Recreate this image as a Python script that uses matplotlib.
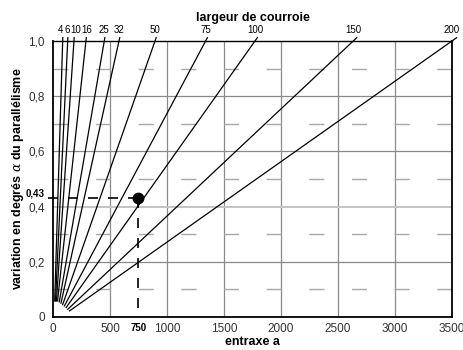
import matplotlib
matplotlib.use("Agg")
import matplotlib.pyplot as plt

# belt widths and where each line starts / meets the top edge (alpha = 1,0)
widths = [4, 6, 10, 16, 25, 32, 50, 75, 100, 150, 200]
top_x = [85, 129, 184, 289, 450, 579, 895, 1339, 1772, 2634, 3500]
bottom_x = [15, 22, 30, 40, 55, 70, 85, 100, 115, 130, 145]
bottom_y = [0.058, 0.058, 0.058, 0.058, 0.055, 0.05, 0.045, 0.04, 0.034, 0.028, 0.022]

# worked example
ex_a = 750
ex_alpha = 0.43

x_ticks = [0, 500, 750, 1000, 1500, 2000, 2500, 3000, 3500]
x_ticklabels = ["0", "500", "750", "1000", "1500", "2000", "2500", "3000", "3500"]
y_ticks = [0, 0.2, 0.4, 0.43, 0.6, 0.8, 1.0]
y_ticklabels = ["0", "0,2", "0,4", "0,43", "0,6", "0,8", "1,0"]

plt.rcParams["font.family"] = ["Liberation Sans", "DejaVu Sans"]
plt.rcParams["mathtext.fontset"] = "dejavuserif"

fig = plt.figure(figsize=(4.64, 3.5), dpi=100)
ax = fig.add_axes([0.1142, 0.0943, 0.8599, 0.7886])
ax.set_xlim(0, 3500)
ax.set_ylim(0, 1.0)

# grid
for gx in [500, 1000, 1500, 2000, 2500, 3000]:
    ax.axvline(gx, color="#8a8a8a", lw=0.9, zorder=1)
for gy in [0.2, 0.6, 0.8]:
    ax.axhline(gy, color="#8a8a8a", lw=0.9, zorder=1)
ax.axhline(0.4, color="#c4c4c4", lw=1.4, zorder=1)
for gy in [0.1, 0.3, 0.5, 0.7, 0.9]:
    ax.plot([0, 3500], [gy, gy], color="#a8a8a8", lw=1.0,
            linestyle=(0, (10.8, 19.9)), zorder=1)

# small sideways nudges (points) so the crowded labels don't collide
nudge = {4: -1.9, 6: -0.5, 10: 1.4, 16: 0.7}

# belt lines, running a touch past the top edge up to their labels
ext = 1.012
for w, tx, bx, by in zip(widths, top_x, bottom_x, bottom_y):
    slope = (1.0 - by) / (tx - bx)
    xe = tx + (ext - 1.0) / slope
    ax.plot([bx, xe], [by, ext], color="black", lw=0.9, clip_on=False, zorder=3)
    ax.annotate(str(w), (tx, 1.0), xytext=(nudge.get(w, 0), 4.2),
                textcoords="offset points", ha="center", va="bottom",
                fontsize=7, annotation_clip=False)

# example reading
ax.plot([-45, ex_a], [ex_alpha, ex_alpha], color="black", lw=1.2,
        dashes=(6, 6), clip_on=False, zorder=2)
ax.plot([ex_a, ex_a], [ex_alpha, 0], color="black", lw=1.2,
        dashes=(6, 6), zorder=2)
ax.plot([ex_a], [ex_alpha], "o", color="black", ms=7.5, zorder=4)

ax.set_xticks(x_ticks)
ax.set_xticklabels(x_ticklabels)
ax.set_yticks(y_ticks)
ax.set_yticklabels(y_ticklabels)
ax.tick_params(length=0, labelsize=8.5, colors="black")
ax.tick_params(axis="x", pad=4)
ax.tick_params(axis="y", pad=6)
for lab in ax.get_xticklabels() + ax.get_yticklabels():
    lab.set_color("#333333")
for lab in (ax.get_xticklabels()[2], ax.get_yticklabels()[3]):
    lab.set_fontweight("bold")
    lab.set_fontsize(7)
    lab.set_color("black")
ax.get_yticklabels()[3].set_va("bottom")

for s in ax.spines.values():
    s.set_color("black")
    s.set_linewidth(1.3)
ax.spines["top"].set_linewidth(1.0)

ax.set_xlabel("entraxe a", fontsize=9, fontweight="bold")
ax.xaxis.set_label_coords(0.5, -0.07)
ax.set_ylabel(r"variation en degrés $\alpha$ du parallélisme", fontsize=9,
              fontweight="bold", va="center")
ax.yaxis.set_label_coords(-0.088, 0.5)
fig.text(0.545, 0.948, "largeur de courroie", ha="center", va="center",
         fontsize=9, fontweight="bold")

fig.savefig("out.png", dpi=100)
